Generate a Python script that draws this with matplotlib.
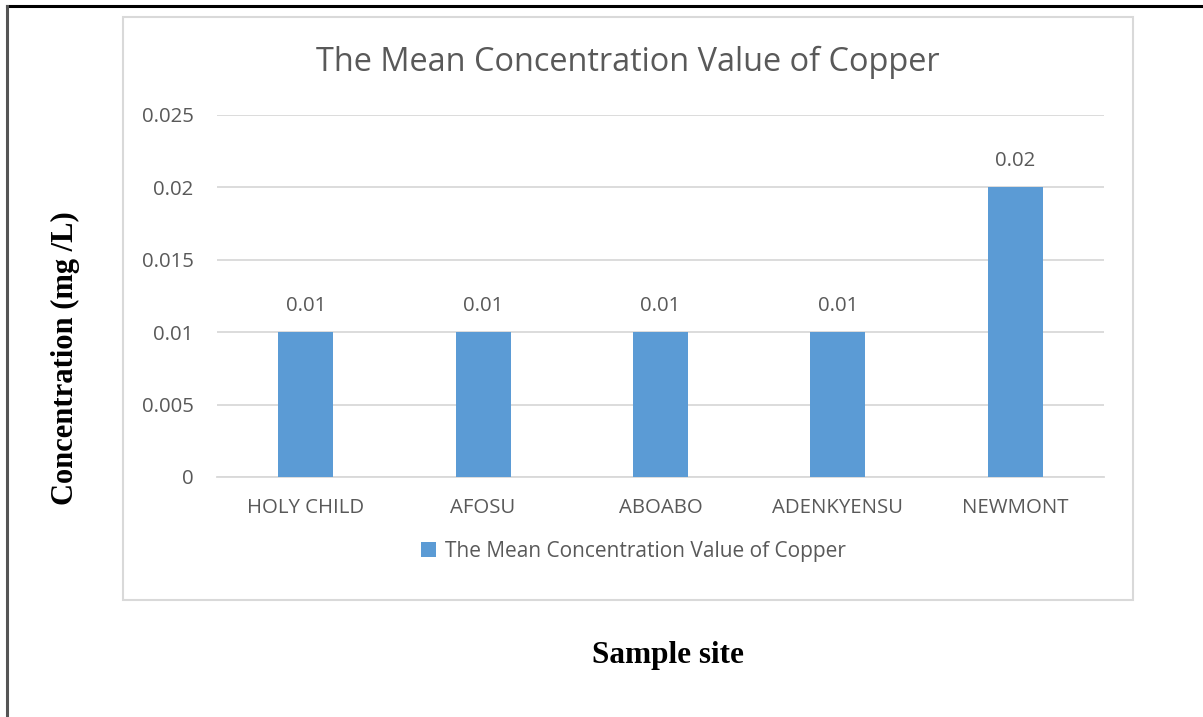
import matplotlib.pyplot as plt
from matplotlib.patches import Rectangle
from matplotlib.lines import Line2D

sites = ['HOLY CHILD', 'AFOSU', 'ABOABO', 'ADENKYENSU', 'NEWMONT']
copper = [0.01, 0.01, 0.01, 0.01, 0.02]
yticks = [0, 0.005, 0.01, 0.015, 0.02, 0.025]
series_name = 'The Mean Concentration Value of Copper'

W, H = 1203, 717
fig = plt.figure(figsize=(W / 100, H / 100), dpi=100)
grey = '#595959'

# outer frame (only top and left visible) and the chart box
fig.add_artist(Line2D([7 / W, 1], [1 - 6 / H, 1 - 6 / H], color='black', lw=2.2,
                      transform=fig.transFigure))
fig.add_artist(Line2D([7 / W, 7 / W], [0, 1 - 6 / H], color='#555555', lw=2.2,
                      transform=fig.transFigure))
fig.add_artist(Rectangle((123 / W, 1 - 600 / H), (1133 - 123) / W, (600 - 17) / H,
                         fill=False, edgecolor='#d9d9d9', lw=1.5,
                         transform=fig.transFigure))

ax = fig.add_axes([217 / W, 1 - 477 / H, (1104 - 217) / W, (477 - 115) / H])
x = range(len(sites))
bars = ax.bar(x, copper, width=0.31, color='#5B9BD5', label=series_name, zorder=3)
ax.set_xlim(-0.5, len(sites) - 0.5)
ax.set_ylim(0, 0.025)
ax.set_yticks(yticks)
ax.set_yticklabels(['0', '0.005', '0.01', '0.015', '0.02', '0.025'])
ax.set_xticks(list(x))
ax.set_xticklabels(sites)
ax.grid(axis='y', color='#d9d9d9', lw=1.3, zorder=0)
for s in ax.spines.values():
    s.set_visible(False)
ax.spines['bottom'].set_visible(True)
ax.spines['bottom'].set_color('#d9d9d9')
ax.spines['bottom'].set_linewidth(1.3)
ax.tick_params(length=0, labelsize=14.7, labelcolor=grey, pad=15)
ax.tick_params(axis='y', pad=17)
for lab in ax.get_xticklabels() + ax.get_yticklabels():
    lab.set_family('Open Sans')

for b, v in zip(bars, copper):
    ax.annotate(f'{v:g}', (b.get_x() + b.get_width() / 2, v), xytext=(0, 12),
                textcoords='offset points', ha='center', va='bottom',
                fontsize=14.7, color=grey, family='Open Sans')

fig.text(628 / W, 1 - 62 / H, series_name, ha='center', va='center',
         fontsize=23.4, color=grey, family='Open Sans')

leg = fig.legend(handles=[bars], labels=[series_name], loc='center',
                 bbox_to_anchor=(633 / W, 1 - 551 / H), frameon=False,
                 handlelength=0.75, handleheight=0.75, handletextpad=0.4,
                 prop={'family': 'Open Sans', 'size': 15})
for t in leg.get_texts():
    t.set_color(grey)

fig.text(65 / W, 1 - 358 / H, 'Concentration (mg /L)', rotation=90, ha='center',
         va='center', fontsize=22, fontweight='bold', family='Liberation Serif')
fig.text(668 / W, 1 - 655 / H, 'Sample site', ha='center', va='center',
         fontsize=22.5, fontweight='bold', family='Liberation Serif')

fig.savefig('out.png', dpi=100)
